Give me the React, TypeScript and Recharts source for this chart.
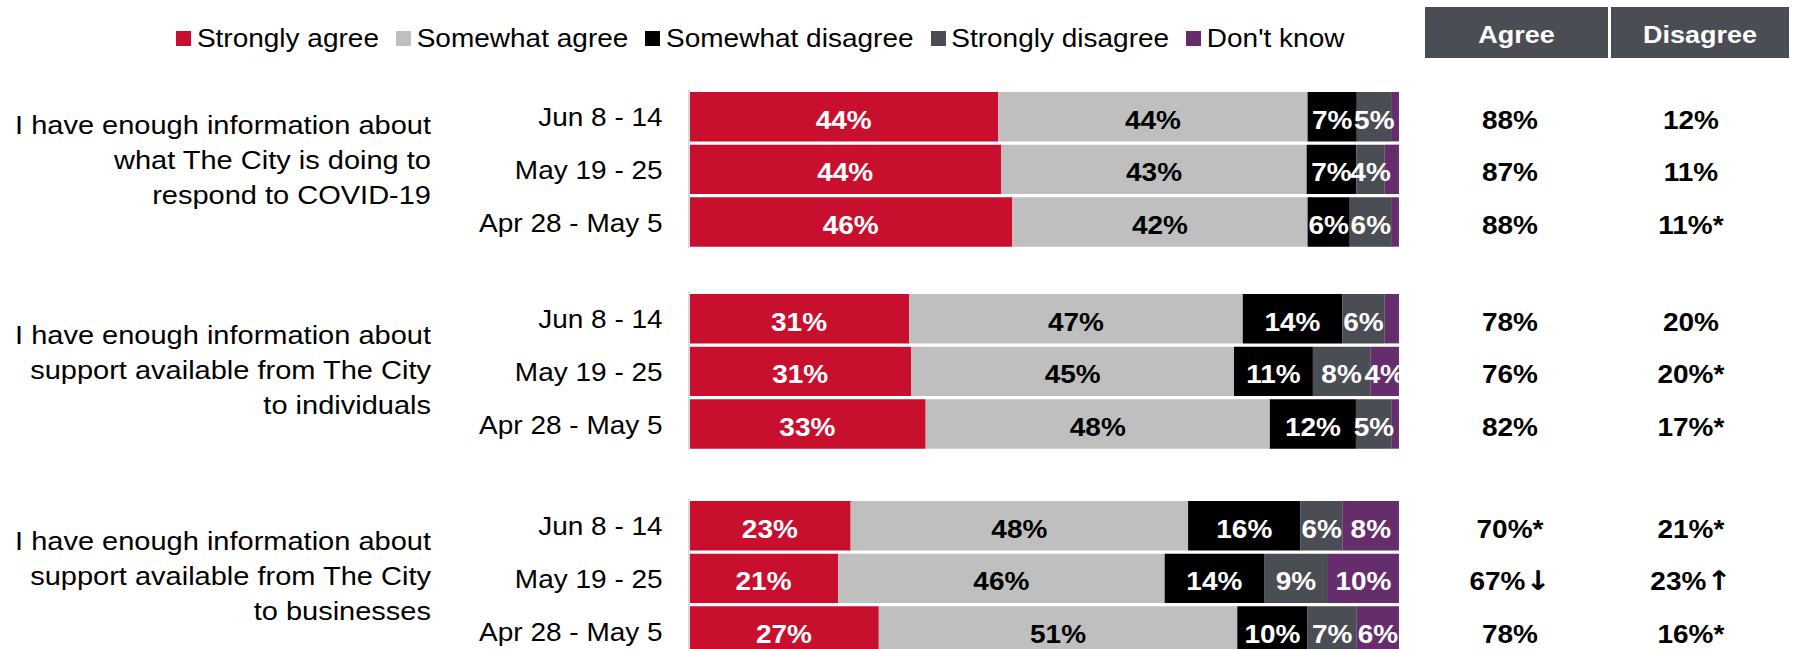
import React from 'react';
import { BarChart, Bar, XAxis, YAxis, LabelList } from 'recharts';

// ---------- data ----------
const periods = ['Jun 8 - 14', 'May 19 - 25', 'Apr 28 - May 5'];

const questions = [
  ['I have enough information about', 'what The City is doing to', 'respond to COVID-19'],
  ['I have enough information about', 'support available from The City', 'to individuals'],
  ['I have enough information about', 'support available from The City', 'to businesses'],
];

// 9 rows: question 1 (3 periods), question 2 (3 periods), question 3 (3 periods)
const stronglyAgree = [44, 44, 46, 31, 31, 33, 23, 21, 27];
const somewhatAgree = [44, 43, 42, 47, 45, 48, 48, 46, 51];
const somewhatDisagree = [7, 7, 6, 14, 11, 12, 16, 14, 10];
const stronglyDisagree = [5, 4, 6, 6, 8, 5, 6, 9, 7];
const dontKnow = [1, 2, 1, 2, 4, 1, 8, 10, 6];

const agreeTotals = ['88%', '87%', '88%', '78%', '76%', '82%', '70%*', '67%\u2193', '78%'];
const disagreeTotals = ['12%', '11%', '11%*', '20%', '20%*', '17%*', '21%*', '23%\u2191', '16%*'];

const seriesNames = ['Strongly agree', 'Somewhat agree', 'Somewhat disagree', 'Strongly disagree', "Don't know"];
const seriesKeys = ['sa', 'swa', 'swd', 'sd', 'dk'];
const seriesValues = [stronglyAgree, somewhatAgree, somewhatDisagree, stronglyDisagree, dontKnow];
const headerLabels = ['Agree', 'Disagree'];

// ---------- style / layout ----------
const seriesColors = ['#C8102E', '#BFBFBF', '#000000', '#4B4D55', '#652D6C'];
const labelColors = ['#FFFFFF', '#000000', '#FFFFFF', '#FFFFFF', '#FFFFFF'];
const HEADER_BG = '#4B4D55';
const FONT = '"Liberation Sans", Arial, Helvetica, sans-serif';
const ARROW_FONT = '"DejaVu Sans", sans-serif';
const SY = 0.9;

const W = 1794;
const H = 649;
const PLOT_LEFT = 689;
const PLOT_RIGHT = 1399;
const BAND = 52.65;
const BAR = 49.4;
const groupTops = [91.7, 293.3, 500.7];
const questionShift = [-9, 0, -2];
const headerBoxes = [
  { x: 1425, w: 183 },
  { x: 1611, w: 178 },
];

function groupData(g: number) {
  return periods.map((p, i) => {
    const idx = g * 3 + i;
    const row: any = { name: p, agree: agreeTotals[idx], disagree: disagreeTotals[idx] };
    seriesKeys.forEach((k, s) => {
      row[k] = seriesValues[s][idx];
    });
    return row;
  });
}

// split a total label so that arrows use a heavier glyph font
function renderTotal(s: string) {
  const m = s.match(/^(.*?)([\u2191\u2193])$/);
  if (!m) return s;
  return (
    <>
      <tspan>{m[1]}</tspan>
      <tspan fontFamily={ARROW_FONT} fontWeight="bold" fontSize={30}>
        {m[2]}
      </tspan>
    </>
  );
}

const makeBarLabel = (data: any[], key: string, color: string) => (props: any) => {
  const { x, y, width, height, value, index } = props;
  const raw = data[index] ? data[index][key] : Number(value);
  const v = Number(raw);
  if (!isFinite(v) || v < 3) return null;
  const cx = Number(x) + Number(width) / 2;
  const cy = Number(y) + Number(height) / 2;
  return (
    <text
      transform={`translate(${cx} ${cy + 12}) scale(1 ${SY})`}
      textAnchor="middle"
      fill={color}
      fontFamily={FONT}
      fontWeight="bold"
      fontSize={28}
    >
      {v}%
    </text>
  );
};

const DateTick = (props: any) => {
  const { x, y, payload } = props;
  return (
    <text
      transform={`translate(${Number(x) - 26.4} ${Number(y) + 10}) scale(1 ${SY})`}
      textAnchor="end"
      fill="#000"
      fontFamily={FONT}
      fontSize={28}
    >
      {payload.value}
    </text>
  );
};

const makeTotalsTick = (data: any[]) => (props: any) => {
  const { x, y, payload, index } = props;
  const i = index ?? payload.index;
  const row = data[i] ?? data.find((d) => d.name === payload.value);
  if (!row) return null;
  return (
    <g>
      <text
        transform={`translate(${Number(x) + 111} ${Number(y) + 12.5}) scale(1 ${SY})`}
        textAnchor="middle"
        fill="#000"
        fontFamily={FONT}
        fontWeight="bold"
        fontSize={28}
      >
        {renderTotal(row.agree)}
      </text>
      <text
        transform={`translate(${Number(x) + 292} ${Number(y) + 12.5}) scale(1 ${SY})`}
        textAnchor="middle"
        fill="#000"
        fontFamily={FONT}
        fontWeight="bold"
        fontSize={28}
      >
        {renderTotal(row.disagree)}
      </text>
    </g>
  );
};

function GroupChart({ g }: { g: number }) {
  const data = groupData(g);
  const top = groupTops[g] - (BAND - BAR) / 2;
  return (
    <div style={{ position: 'absolute', left: 0, top, width: W, height: 3 * BAND }}>
      <BarChart
        width={W}
        height={3 * BAND}
        data={data}
        layout="vertical"
        stackOffset="expand"
        barSize={BAR}
        margin={{ top: 0, right: 0, bottom: 0, left: 0 }}
      >
        <XAxis type="number" hide domain={[0, 1]} />
        <YAxis
          yAxisId="left"
          type="category"
          dataKey="name"
          width={PLOT_LEFT}
          interval={0}
          tickLine={false}
          tickSize={0}
          tickMargin={0}
          axisLine={{ stroke: '#D9D9D9', strokeWidth: 2 }}
          tick={<DateTick />}
        />
        <YAxis
          yAxisId="right"
          orientation="right"
          type="category"
          dataKey="name"
          width={W - PLOT_RIGHT}
          interval={0}
          tickLine={false}
          tickSize={0}
          tickMargin={0}
          axisLine={false}
          tick={makeTotalsTick(data)}
        />
        {seriesKeys.map((k, s) => (
          <Bar
            key={k}
            yAxisId="left"
            dataKey={k}
            name={seriesNames[s]}
            stackId="a"
            fill={seriesColors[s]}
            isAnimationActive={false}
          >
            <LabelList dataKey={k} content={makeBarLabel(data, k, labelColors[s])} />
          </Bar>
        ))}
      </BarChart>
    </div>
  );
}

export default function App() {
  return (
    <div
      style={{
        position: 'absolute',
        left: 0,
        top: 0,
        width: W,
        height: H,
        overflow: 'hidden',
        background: '#fff',
        fontFamily: FONT,
        color: '#000',
      }}
    >
      {/* legend */}
      <div
        style={{
          position: 'absolute',
          left: 176.2,
          top: 24.5,
          height: 28,
          display: 'flex',
          alignItems: 'center',
          fontSize: 28,
          lineHeight: '28px',
          whiteSpace: 'nowrap',
        }}
      >
        {seriesNames.map((n, s) => (
          <div key={n} style={{ display: 'flex', alignItems: 'center', marginRight: 17 }}>
            <div style={{ width: 15, height: 15, background: seriesColors[s], marginRight: 5.7 }} />
            <span style={{ display: 'inline-block', transform: `scaleY(${SY})` }}>{n}</span>
          </div>
        ))}
      </div>

      {/* column headers */}
      {headerLabels.map((h, i) => (
        <div
          key={h}
          style={{
            position: 'absolute',
            left: headerBoxes[i].x,
            top: 7.3,
            width: headerBoxes[i].w,
            height: 50.4,
            boxSizing: 'border-box',
            paddingTop: 6,
            background: HEADER_BG,
            color: '#fff',
            fontWeight: 'bold',
            fontSize: 27,
            display: 'flex',
            alignItems: 'center',
            justifyContent: 'center',
          }}
        >
          <span style={{ display: 'inline-block', transform: `scaleY(${SY})` }}>{h}</span>
        </div>
      ))}

      {/* question labels */}
      {questions.map((lines, g) => {
        const mid = groupTops[g] + BAND + BAR / 2 + questionShift[g];
        return (
          <div
            key={g}
            style={{
              position: 'absolute',
              left: 0,
              width: 431,
              top: mid - 52.5,
              textAlign: 'right',
              fontSize: 29,
              lineHeight: '35px',
              whiteSpace: 'nowrap',
            }}
          >
            {lines.map((l, j) => (
              <div key={j} style={{ height: 35 }}>
                <span style={{ display: 'inline-block', transform: `scaleY(${SY})` }}>{l}</span>
              </div>
            ))}
          </div>
        );
      })}

      {[0, 1, 2].map((g) => (
        <GroupChart key={g} g={g} />
      ))}
    </div>
  );
}
